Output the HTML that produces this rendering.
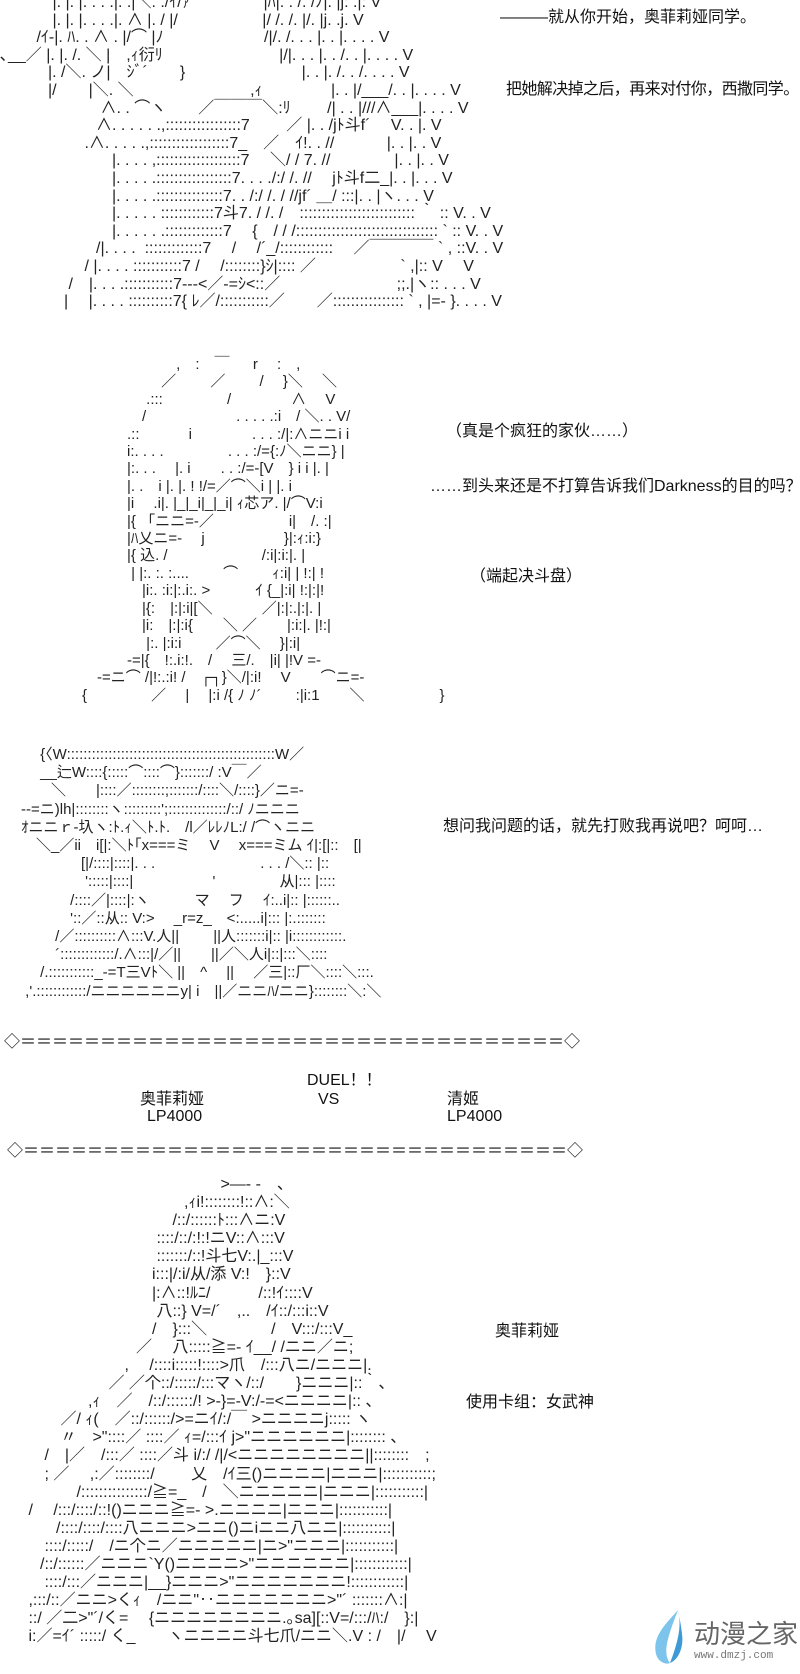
<!DOCTYPE html>
<html><head><meta charset="utf-8"><style>
body{margin:0;background:#fff;width:800px;height:1674px;position:relative;overflow:hidden}
.t{position:absolute;font-family:"Liberation Sans","Noto Sans CJK SC",sans-serif;font-size:16px;line-height:18px;color:#111;white-space:pre}
.a{position:absolute;font-family:"Liberation Sans","Noto Sans CJK JP",sans-serif;font-size:15px;color:#222;white-space:pre;margin:0}
</style></head><body>

<pre class="a" style="left:0;top:-6px;line-height:17.6px;font-size:16px">　　　 |. |. |. . . .|. .|＼. ./ｲ/ｧ´　　　　 |ﾊ|. . /. /ﾉ|. |j: .|: V
　　　 |. |. |. . . .|. ∧ |. / |/　　　　　 |/ /. /. |/. |j. .j. V
　　 /ｲ-|. ﾊ. . ∧ . |/⌒ |ﾉ　　　　　 　/|/. /. . . |. . |. . . . V
､__／ |. |. /. ＼ |　,ｨ衍ﾘ　　　　　　　 |/|. . . |. . /. . |. . . . V
　　　|. /＼. ノ|　ｼﾞ´　　}　　　　　　　 |. . |. /. . /. . . . V
　　　|/　　|＼. ＼　　　　　　　 ,ｨ　　　　 |. . |/___/. . |. . . . V
　　　　　　 ∧. . ⌒ヽ　　／￣￣￣＼:ﾘ　　 /| . . |///∧___|. . . . V
　　　　　　∧. . . . . .,:::::::::::::::::7　　 ／ |. . /jﾄ斗f´　 V. . |. V
　　　　　 .∧. . . . .,::::::::::::::::::7_　／　ｲ!. . //　　 　|. . |. . V
　　　　　　　|. . . . ,:::::::::::::::::::7　 ＼/ / 7. //　　　　|. . |. . V
　　　　　　　|. . . . .:::::::::::::::::7. . . ./:/ /. //　 jﾄ斗f二_|. . |. . . V
　　　　　　　|. . . . .:::::::::::::::7. . /:/ /. / //jf´ ＿/ :::|. . |ヽ. . . V
　　　　　　　|. . . . . ::::::::::::7斗7. / /. /　:::::::::::::::::::::::::: ｀ :: V. . V
　　　　　　　|. . . . . .:::::::::::::7　 {　/ / /:::::::::::::::::::::::::::::::: ` :: V. . V
　　　　　　/|. . . .  :::::::::::::7　 /　 /´_/:::::::::::: 　／￣￣￣￣ ` , ::V. . V
　　　　　 / |. . . . :::::::::::7 /　 /::::::::}ｼ|:::: ／　　　　　 ` ,|:: V　 V
　　　　 /　|. . . .:::::::::::7---<／-=ｼ<::／　　　　　　　 ;;.|ヽ:: . . . V
　　　　|　 |. . . . ::::::::::7{ ﾚ／/:::::::::::／　　／:::::::::::::::: ` , |=- }. . . . V</pre>

<div class="t" style="left:500px;top:9px">———就从你开始，奥菲莉娅同学。</div>
<div class="t" style="left:506px;top:81px;letter-spacing:-0.6px">把她解决掉之后，再来对付你，西撒同学。</div>

<pre class="a" style="left:82px;top:356px;line-height:17.4px">　　　　　　 ,　:　￣ 　 r　 :　,
　　　　　 ／　　 ／　　 /　 }＼　 ＼
　　　　 .:::　　　　 /　　　　∧　 V
　　　　/　　　　　　. . . . .:i　/ ＼. . V/
　　　.::　　　 i　　　　. . . :/|:∧ニニi i
　　　i:. . . .　　　　 . . . :/={:ﾉ＼ニニ} |
　　　|:. . .　 |. i　　. . :/=-[V　} i i |. |
　　　|. .　i |. |. ! !/=／⌒＼i | |. i
　　　|i　 .i|. |_|_i|_|_i| ｨ芯ア. |/⌒V:i
　　　|{ 「ニニ=-／　　　　　i|　/. :|
　　　|ﾊ乂ニ=-　 j　　　　　 }|:ｨ:i:}
　　　|{ 込. /　　　　　　 /:i|:i:|. |
　　　 | |:. :. :....　　 ⌒　　 ｨ:i| | !:| !
　　　　|i:. :i:|:.i:. >　　　ｲ {_|:i| !:|:|!
　　　　|{:　|:|:i|[＼　　　 ／|:|:.|:|. |
　　　　|i:　|:|:i{　　＼ ／　　|:i:|. |!:|
　　　　 |:. |:i:i　　 ／⌒＼　 }|:i|
　　　-=|{　!:.i:!.　/　 三/.　|i| |!V =-
　-=ニ⌒ /|!:.:i! /　┌┐}＼/|:i!　 V　　⌒ニ=-
{　　　　 ／　 |　 |:i /{ ﾉ ﾉ´　　 :|i:1　　＼　　　　　}</pre>

<div class="t" style="left:446px;top:423px">（真是个疯狂的家伙……）</div>
<div class="t" style="left:430px;top:478px">……到头来还是不打算告诉我们Darkness的目的吗？</div>
<div class="t" style="left:470px;top:568px">（端起决斗盘）</div>

<pre class="a" style="left:6px;top:746px;line-height:18.2px">　　 {〈W::::::::::::::::::::::::::::::::::::::::::::::::::W／
　　 __辷W::::{:::::⌒::::⌒}:::::::/ :V￣／
　　　＼　　|::::／::::::::;:::::::/::::＼/::::}／ニ=-
　-‐=ニ)lh|::::::::ヽ:::::::::';::::::::::::::/::/ ﾉニニニ
　ｵニニｒ-圦ヽ:ﾄ.ｨ＼ﾄ.ﾄ.　/l／ﾚﾚﾉL:/ /⌒ヽニニ
　　＼_／ii　i[|:＼ﾄ｢x===ミ　 V　 x===ミム ｲ|:[|::　[|
　　　　　[|/::::|::::|. . .　　　　　　　. . . /＼:: |::
　　　　　 ':::::|::::|　　　　　 '　　　　 从|::: |::::
　　　　 /::::／|::::|:ヽ　　　マ　 フ　 ｲ:..i|:: |::::::..
　　　　 '::／::从:: V:>　 _r=z_　<:.....i|::: |:.:::::::
　　　 /／::::::::::∧:::V.人||　　 ||人:::::::i|:: |i::::::::::::.
　　　 ´:::::::::::::/.∧:::|/／||　　||／＼人i|::|:::＼::::
　　 /.:::::::::::_-=T三Vﾄ＼ ||　^　 ||　 ／三|::厂＼::::＼:::.
　 ,'.::::::::::::/ニニニニニニy| i　||／ニニﾊ/ニニ}::::::::＼:＼</pre>

<div class="t" style="left:443px;top:818px">想问我问题的话，就先打败我再说吧？呵呵…</div>

<div class="t" style="left:4px;top:1034px;letter-spacing:0">◇＝＝＝＝＝＝＝＝＝＝＝＝＝＝＝＝＝＝＝＝＝＝＝＝＝＝＝＝＝＝＝＝＝＝◇</div>
<div class="t" style="left:307px;top:1072px">DUEL！！</div>
<div class="t" style="left:140px;top:1091px">奥菲莉娅</div>
<div class="t" style="left:318px;top:1091px">VS</div>
<div class="t" style="left:447px;top:1091px">清姬</div>
<div class="t" style="left:147px;top:1108px">LP4000</div>
<div class="t" style="left:447px;top:1108px">LP4000</div>
<div class="t" style="left:7px;top:1143px">◇＝＝＝＝＝＝＝＝＝＝＝＝＝＝＝＝＝＝＝＝＝＝＝＝＝＝＝＝＝＝＝＝＝＝◇</div>

<pre class="a" style="left:8px;top:1176px;line-height:18.1px;font-size:16px">　　　　　　　　　　　　　 >―‐ -　、
　　　　　　　　　　　,ｨi!::::::::!::∧:＼
　　　　　　　　　　 /::/::::::ﾄ:::∧ニ:V
　　　　　　　　　 ::::/::/:!:!ニV::∧:::V
　　　　　　　　　 :::::::/::!斗七V:.|_:::V
　　　　　　　　　i:::|/:i/从/添 V:!　}::V
　　　　　　　　　|:∧::!ﾙﾆ/　　　/::!ｲ::::V
　　　　　　　　　 八::} V=/´　,..　/ｲ::/:::i::V
　　　　　　　　　/　}:::＼　　　　/　V:::/:::V_
　　　　　　　　／　 八:::::≧=- ｲ__/ /ニニ／ニ;
　　　　　　　 ,　 /::::i:::::!::::>爪　/:::八ニ/ニニニ|.
　　　　　　 ／ ／个::/:::::/:::マヽ/::/　　}ニニニ|::｀、
　　　　　,ｨ　／　/::/::::::/! >-}=-V:/-=<ニニニニ|:: 、
　　　 ／/ ｨ(　／::/::::::/>=ニｲ/:/￣ >ニニニニj::::: ヽ
　　　 〃　>"::::／ ::::／ ｨ=/:::ｲ j>"ニニニニニニ|:::::::: 、
　　 /　|／　/:::／ ::::／斗 i/:/ /|/<ニニニニニニニニ||::::::::　;
　　 ; ／　 ,:／::::::::/　　 乂　/ｲ三()ニニニニ|ニニニ|:::::::::::;
　　　　 /:::::::::::::::/≧=_　/　＼ニニニニニ|ニニニ|:::::::::::|
　 /　 /:::/::::/::!()ニニニ≧=- >.ニニニニ|ニニニ|:::::::::::|
　　　/::::/::::/::::八ニニニ>ニニ()ニiニニ八ニニ|:::::::::::|
　　 ::::/:::::/　/ニ个ニ／ニニニニニ|ニ>"ニニニ|:::::::::::|
　　/::/::::::／ニニニ`Y()ニニニニ>"ニニニニニニ|::::::::::::|
　　 ::::/:::／ニニニ|__}ニニニ>"ニニニニニニニ!::::::::::::|
　 ,:::/::／ニニ>くｨ　/ニニ"‥ニニニニニニニ>"´ :::::::∧:|
　 ::/ ／二>"´/く=　 {ニニニニニニニニ.｡sa][::V=/:::/ﾊ:/　}:|
　 i:／=ｲ´ :::::/ く_　　ヽニニニニ斗七爪/ニニ＼.V : /　|/　 V</pre>

<div class="t" style="left:495px;top:1323px">奥菲莉娅</div>
<div class="t" style="left:466px;top:1394px">使用卡组：女武神</div>

<svg style="position:absolute;left:648px;top:1608px" width="48" height="58" viewBox="0 0 48 58">
<path d="M30 2 C18 16 4 28 8 46 C10 54 18 57 22 55 C14 45 20 28 30 2 Z" fill="#7cc4ec"/>
<path d="M30 2 C34 18 30 34 22 55 C30 52 36 40 34 26 C33 16 31 8 30 2 Z" fill="#3d9ad6"/>
</svg>
<div class="t" style="left:694px;top:1620px;font-size:26px;line-height:28px;color:#666">动漫之家</div>
<div class="t" style="left:694px;top:1650px;font-size:11px;line-height:12px;color:#777;font-family:'Liberation Mono',monospace">www.dmzj.com</div>
</body></html>
